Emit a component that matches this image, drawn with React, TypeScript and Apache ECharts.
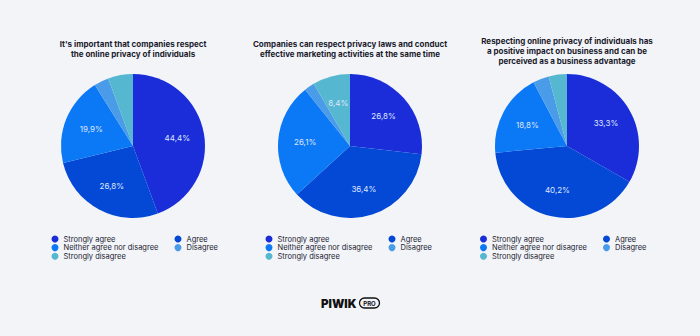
import React, { useEffect, useRef } from "react";
import * as echarts from "echarts";

const categories = ["Strongly agree", "Agree", "Neither agree nor disagree", "Disagree", "Strongly disagree"];
const colors = ["#1a2dd8", "#0449d6", "#0b78f5", "#4a9be8", "#56b8d0"];
const titles = [
  "It's important that companies respect\nthe online privacy of individuals",
  "Companies can respect privacy laws and conduct\neffective marketing activities at the same time",
  "Respecting online privacy of individuals has\na positive impact on business and can be\nperceived as a business advantage",
];
const values1 = [44.4, 26.8, 19.9, 3.3, 5.6];
const values2 = [26.8, 36.4, 26.1, 2.3, 8.4];
const values3 = [33.3, 40.2, 18.8, 3.6, 4.1];
const allValues = [values1, values2, values3];

const centersX = [133, 350, 567];
const titleTops = [39, 39, 35.5];
const legendLefts = [51.5, 265.5, 480];
const legendRightOffset = 123;

export default function App() {
  const ref = useRef<HTMLDivElement>(null);
  useEffect(() => {
    document.body.style.margin = "0";
    const chart = echarts.init(ref.current!, null, { renderer: "svg" });
    const font = "Inter, 'Noto Sans', sans-serif";
    const fmt = (p: any) => (p.value >= 8 ? p.value.toFixed(1).replace(".", ",") + "%" : "");
    const series: any[] = [];
    allValues.forEach((vals, i) => {
      const data = vals.map((v, j) => ({ name: categories[j], value: v, itemStyle: { color: colors[j] } }));
      series.push({
        type: "pie",
        center: [centersX[i], 146],
        radius: [0, 72],
        startAngle: 90,
        clockwise: true,
        label: { show: false },
        labelLine: { show: false },
        itemStyle: { borderWidth: 0 },
        emphasis: { disabled: true },
        data,
      });
      series.push({
        type: "pie",
        center: [centersX[i], 146],
        radius: [0, 84],
        startAngle: 90,
        clockwise: true,
        silent: true,
        legendHoverLink: false,
        itemStyle: { color: "transparent", borderWidth: 0 },
        label: {
          show: true,
          position: "inside",
          formatter: fmt,
          color: "#dfe6ff",
          fontSize: 8,
          fontFamily: font,
        },
        labelLine: { show: false },
        emphasis: { disabled: true },
        data: vals.map((v, j) => ({ name: categories[j] + " ", value: v })),
      });
    });
    const legendBase = {
      orient: "vertical",
      top: 235,
      icon: "circle",
      itemWidth: 7,
      itemHeight: 7,
      itemGap: 0.6,
      padding: 0,
      selectedMode: false,
      textStyle: { fontSize: 7.5, color: "#22222f", fontFamily: font, lineHeight: 7 },
    };
    const legends: any[] = [];
    legendLefts.forEach((l) => {
      legends.push({ ...legendBase, left: l, data: [categories[0], categories[2], categories[4]] });
      legends.push({ ...legendBase, left: l + legendRightOffset, data: [categories[1], categories[3]] });
    });
    const option: any = {
      animation: false,
      backgroundColor: "#f2f4f8",
      title: titles.map((t, i) => ({
        text: t,
        left: centersX[i],
        top: titleTops[i],
        textAlign: "center",
        padding: 0,
        textStyle: { fontSize: 8, fontWeight: "bold", color: "#1b1b2b", fontFamily: font, lineHeight: 10.3 },
      })),
      legend: legends,
      series,
      graphic: [
        {
          type: "text",
          left: 321,
          top: 297.5,
          style: { text: "PIWIK", fontSize: 11.5, fontWeight: 900, fill: "#111", fontFamily: font },
        },
        {
          type: "rect",
          shape: { x: 359.5, y: 298, width: 20, height: 10, r: 5 },
          style: { fill: "none", stroke: "#111", lineWidth: 1.3 },
        },
        {
          type: "text",
          x: 369.5,
          y: 303.2,
          style: { text: "PRO", fontSize: 6, fontWeight: "bold", fill: "#111", fontFamily: font, align: "center", verticalAlign: "middle" },
        },
      ],
    };
    chart.setOption(option);
    return () => chart.dispose();
  }, []);
  return <div ref={ref} style={{ position: "fixed", left: 0, top: 0, width: 700, height: 336 }} />;
}
